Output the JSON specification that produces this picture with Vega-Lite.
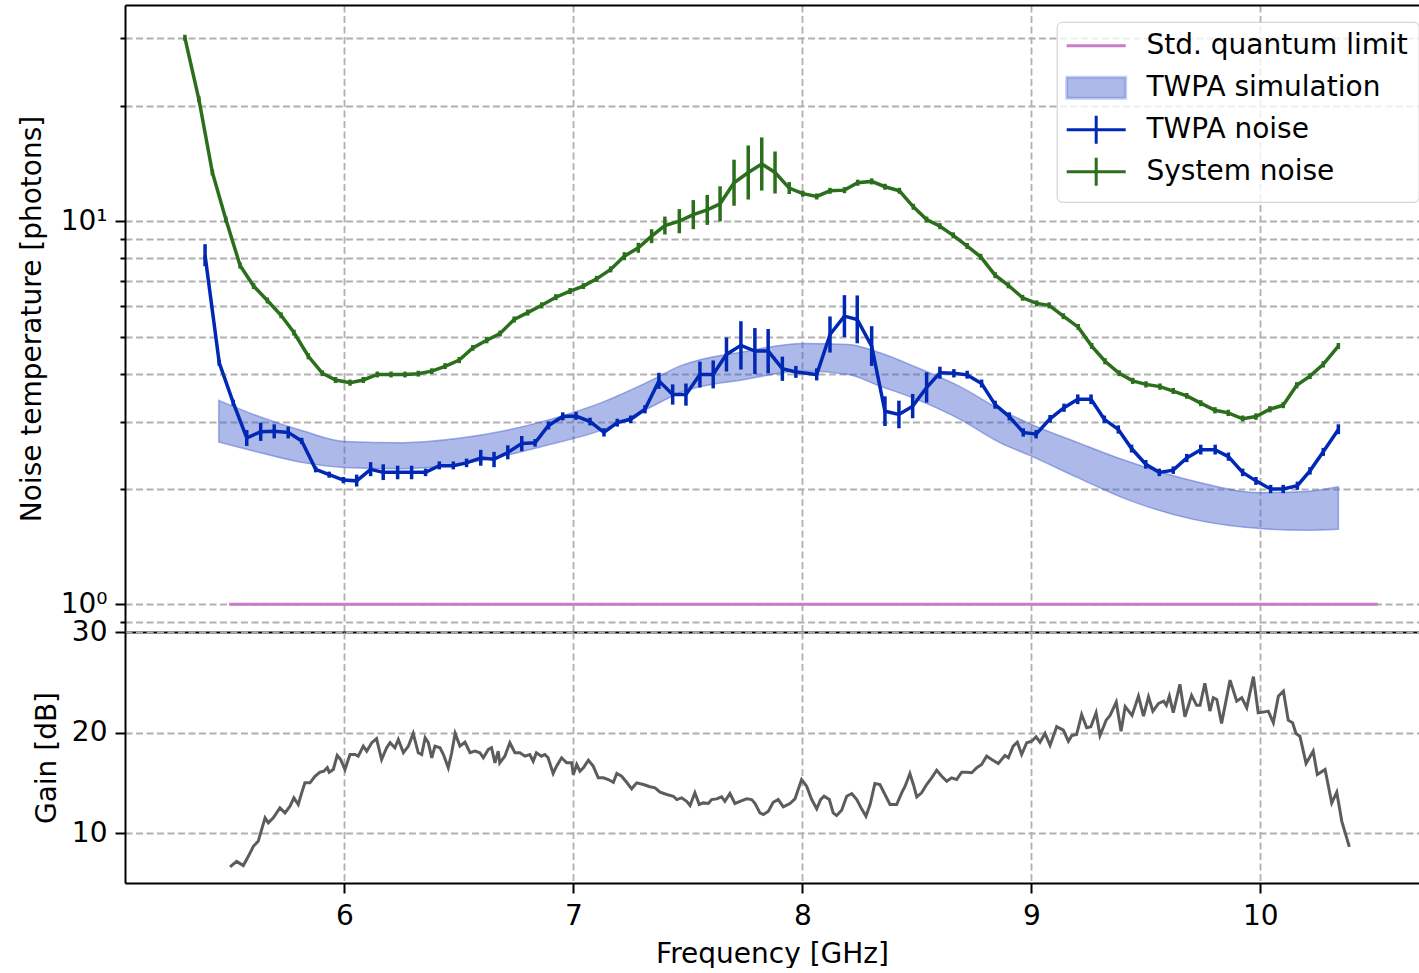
{
  "$schema": "https://vega.github.io/schema/vega-lite/v6.json",
  "padding": {"left": 18, "top": 5, "right": 0, "bottom": 0},
  "config": {
    "font": "DejaVu Sans",
    "view": {"stroke": null},
    "axis": {
      "labelFont": "DejaVu Sans", "titleFont": "DejaVu Sans",
      "labelFontSize": 28, "titleFontSize": 28,
      "labelColor": "#000000", "titleColor": "#000000", "titleFontWeight": "normal",
      "domainColor": "#000000", "domainWidth": 2,
      "tickColor": "#000000", "tickWidth": 2,
      "gridColor": "#b0b0b0", "gridDash": [7, 3.5], "gridWidth": 1.8,
      "labelOverlap": false, "labelFlush": false, "labelBound": false
    }
  },
  "datasets": {
    "band": [
      {"f": 5.452, "upper": 3.406, "lower": 2.651, "series": "TWPA simulation"},
      {"f": 5.603, "upper": 3.131, "lower": 2.512, "series": "TWPA simulation"},
      {"f": 5.821, "upper": 2.833, "lower": 2.343, "series": "TWPA simulation"},
      {"f": 6.0, "upper": 2.662, "lower": 2.277, "series": "TWPA simulation"},
      {"f": 6.258, "upper": 2.642, "lower": 2.259, "series": "TWPA simulation"},
      {"f": 6.5, "upper": 2.711, "lower": 2.319, "series": "TWPA simulation"},
      {"f": 6.694, "upper": 2.833, "lower": 2.437, "series": "TWPA simulation"},
      {"f": 6.9, "upper": 3.039, "lower": 2.615, "series": "TWPA simulation"},
      {"f": 7.117, "upper": 3.35, "lower": 2.84, "series": "TWPA simulation"},
      {"f": 7.32, "upper": 3.79, "lower": 3.23, "series": "TWPA simulation"},
      {"f": 7.465, "upper": 4.184, "lower": 3.567, "series": "TWPA simulation"},
      {"f": 7.75, "upper": 4.572, "lower": 3.864, "series": "TWPA simulation"},
      {"f": 8.004, "upper": 4.797, "lower": 4.061, "series": "TWPA simulation"},
      {"f": 8.2, "upper": 4.768, "lower": 3.982, "series": "TWPA simulation"},
      {"f": 8.339, "upper": 4.536, "lower": 3.712, "series": "TWPA simulation"},
      {"f": 8.5, "upper": 4.151, "lower": 3.426, "series": "TWPA simulation"},
      {"f": 8.689, "upper": 3.698, "lower": 3.039, "series": "TWPA simulation"},
      {"f": 8.863, "upper": 3.227, "lower": 2.642, "series": "TWPA simulation"},
      {"f": 9.0, "upper": 2.949, "lower": 2.437, "series": "TWPA simulation"},
      {"f": 9.2, "upper": 2.647, "lower": 2.145, "series": "TWPA simulation"},
      {"f": 9.417, "upper": 2.365, "lower": 1.879, "series": "TWPA simulation"},
      {"f": 9.708, "upper": 2.097, "lower": 1.666, "series": "TWPA simulation"},
      {"f": 10.0, "upper": 1.956, "lower": 1.576, "series": "TWPA simulation"},
      {"f": 10.2, "upper": 1.971, "lower": 1.56, "series": "TWPA simulation"},
      {"f": 10.341, "upper": 2.028, "lower": 1.569, "series": "TWPA simulation"}
    ],
    "sql": [
      {"f": 5.497, "T": 1, "series": "Std. quantum limit"},
      {"f": 10.513, "T": 1, "series": "Std. quantum limit"}
    ],
    "noise": [
      {"f": 5.304, "T": 30.1, "lo": 29.56, "hi": 30.65, "series": "System noise"},
      {"f": 5.365, "T": 20.8, "lo": 20.43, "hi": 21.18, "series": "System noise"},
      {"f": 5.424, "T": 13.4, "lo": 13.16, "hi": 13.64, "series": "System noise"},
      {"f": 5.483, "T": 10.1, "lo": 9.92, "hi": 10.28, "series": "System noise"},
      {"f": 5.545, "T": 7.66, "lo": 7.52, "hi": 7.8, "series": "System noise"},
      {"f": 5.604, "T": 6.77, "lo": 6.65, "hi": 6.89, "series": "System noise"},
      {"f": 5.664, "T": 6.21, "lo": 6.1, "hi": 6.32, "series": "System noise"},
      {"f": 5.724, "T": 5.68, "lo": 5.58, "hi": 5.78, "series": "System noise"},
      {"f": 5.78, "T": 5.12, "lo": 5.03, "hi": 5.21, "series": "System noise"},
      {"f": 5.843, "T": 4.44, "lo": 4.36, "hi": 4.52, "series": "System noise"},
      {"f": 5.904, "T": 4.01, "lo": 3.94, "hi": 4.08, "series": "System noise"},
      {"f": 5.962, "T": 3.85, "lo": 3.78, "hi": 3.92, "series": "System noise"},
      {"f": 6.025, "T": 3.79, "lo": 3.72, "hi": 3.86, "series": "System noise"},
      {"f": 6.083, "T": 3.85, "lo": 3.78, "hi": 3.92, "series": "System noise"},
      {"f": 6.144, "T": 3.98, "lo": 3.91, "hi": 4.05, "series": "System noise"},
      {"f": 6.204, "T": 3.98, "lo": 3.91, "hi": 4.05, "series": "System noise"},
      {"f": 6.265, "T": 3.98, "lo": 3.91, "hi": 4.05, "series": "System noise"},
      {"f": 6.323, "T": 4.0, "lo": 3.93, "hi": 4.07, "series": "System noise"},
      {"f": 6.382, "T": 4.06, "lo": 3.99, "hi": 4.13, "series": "System noise"},
      {"f": 6.44, "T": 4.18, "lo": 4.11, "hi": 4.26, "series": "System noise"},
      {"f": 6.502, "T": 4.34, "lo": 4.26, "hi": 4.42, "series": "System noise"},
      {"f": 6.561, "T": 4.67, "lo": 4.59, "hi": 4.75, "series": "System noise"},
      {"f": 6.622, "T": 4.89, "lo": 4.8, "hi": 4.98, "series": "System noise"},
      {"f": 6.68, "T": 5.09, "lo": 5.0, "hi": 5.18, "series": "System noise"},
      {"f": 6.742, "T": 5.54, "lo": 5.44, "hi": 5.64, "series": "System noise"},
      {"f": 6.801, "T": 5.77, "lo": 5.67, "hi": 5.88, "series": "System noise"},
      {"f": 6.862, "T": 6.03, "lo": 5.92, "hi": 6.14, "series": "System noise"},
      {"f": 6.924, "T": 6.33, "lo": 6.22, "hi": 6.45, "series": "System noise"},
      {"f": 6.986, "T": 6.57, "lo": 6.45, "hi": 6.69, "series": "System noise"},
      {"f": 7.044, "T": 6.77, "lo": 6.65, "hi": 6.89, "series": "System noise"},
      {"f": 7.102, "T": 7.07, "lo": 6.94, "hi": 7.2, "series": "System noise"},
      {"f": 7.163, "T": 7.48, "lo": 7.35, "hi": 7.62, "series": "System noise"},
      {"f": 7.223, "T": 8.1, "lo": 7.91, "hi": 8.3, "series": "System noise"},
      {"f": 7.284, "T": 8.52, "lo": 8.27, "hi": 8.78, "series": "System noise"},
      {"f": 7.342, "T": 9.14, "lo": 8.76, "hi": 9.53, "series": "System noise"},
      {"f": 7.4, "T": 9.74, "lo": 9.23, "hi": 10.28, "series": "System noise"},
      {"f": 7.463, "T": 10.0, "lo": 9.3, "hi": 10.75, "series": "System noise"},
      {"f": 7.524, "T": 10.4, "lo": 9.53, "hi": 11.35, "series": "System noise"},
      {"f": 7.585, "T": 10.7, "lo": 9.78, "hi": 11.71, "series": "System noise"},
      {"f": 7.641, "T": 11.1, "lo": 9.99, "hi": 12.33, "series": "System noise"},
      {"f": 7.702, "T": 12.6, "lo": 10.97, "hi": 14.47, "series": "System noise"},
      {"f": 7.764, "T": 13.4, "lo": 11.39, "hi": 15.76, "series": "System noise"},
      {"f": 7.823, "T": 14.1, "lo": 12.02, "hi": 16.54, "series": "System noise"},
      {"f": 7.881, "T": 13.4, "lo": 11.81, "hi": 15.2, "series": "System noise"},
      {"f": 7.943, "T": 12.2, "lo": 11.77, "hi": 12.65, "series": "System noise"},
      {"f": 8.002, "T": 11.8, "lo": 11.59, "hi": 12.01, "series": "System noise"},
      {"f": 8.063, "T": 11.6, "lo": 11.39, "hi": 11.81, "series": "System noise"},
      {"f": 8.121, "T": 12.0, "lo": 11.79, "hi": 12.22, "series": "System noise"},
      {"f": 8.184, "T": 12.05, "lo": 11.83, "hi": 12.27, "series": "System noise"},
      {"f": 8.242, "T": 12.6, "lo": 12.37, "hi": 12.83, "series": "System noise"},
      {"f": 8.303, "T": 12.7, "lo": 12.47, "hi": 12.93, "series": "System noise"},
      {"f": 8.361, "T": 12.3, "lo": 12.08, "hi": 12.52, "series": "System noise"},
      {"f": 8.424, "T": 12.0, "lo": 11.79, "hi": 12.22, "series": "System noise"},
      {"f": 8.485, "T": 10.9, "lo": 10.71, "hi": 11.1, "series": "System noise"},
      {"f": 8.543, "T": 10.1, "lo": 9.92, "hi": 10.28, "series": "System noise"},
      {"f": 8.601, "T": 9.7, "lo": 9.53, "hi": 9.88, "series": "System noise"},
      {"f": 8.659, "T": 9.18, "lo": 9.02, "hi": 9.35, "series": "System noise"},
      {"f": 8.72, "T": 8.61, "lo": 8.46, "hi": 8.77, "series": "System noise"},
      {"f": 8.779, "T": 8.07, "lo": 7.93, "hi": 8.22, "series": "System noise"},
      {"f": 8.842, "T": 7.23, "lo": 7.1, "hi": 7.36, "series": "System noise"},
      {"f": 8.9, "T": 6.8, "lo": 6.68, "hi": 6.92, "series": "System noise"},
      {"f": 8.962, "T": 6.31, "lo": 6.2, "hi": 6.42, "series": "System noise"},
      {"f": 9.024, "T": 6.1, "lo": 5.99, "hi": 6.21, "series": "System noise"},
      {"f": 9.078, "T": 6.03, "lo": 5.92, "hi": 6.14, "series": "System noise"},
      {"f": 9.14, "T": 5.65, "lo": 5.55, "hi": 5.75, "series": "System noise"},
      {"f": 9.205, "T": 5.29, "lo": 5.2, "hi": 5.39, "series": "System noise"},
      {"f": 9.264, "T": 4.72, "lo": 4.64, "hi": 4.81, "series": "System noise"},
      {"f": 9.322, "T": 4.31, "lo": 4.23, "hi": 4.39, "series": "System noise"},
      {"f": 9.384, "T": 4.01, "lo": 3.94, "hi": 4.08, "series": "System noise"},
      {"f": 9.443, "T": 3.83, "lo": 3.76, "hi": 3.9, "series": "System noise"},
      {"f": 9.501, "T": 3.75, "lo": 3.68, "hi": 3.82, "series": "System noise"},
      {"f": 9.562, "T": 3.7, "lo": 3.63, "hi": 3.77, "series": "System noise"},
      {"f": 9.62, "T": 3.6, "lo": 3.54, "hi": 3.67, "series": "System noise"},
      {"f": 9.679, "T": 3.5, "lo": 3.44, "hi": 3.56, "series": "System noise"},
      {"f": 9.74, "T": 3.35, "lo": 3.29, "hi": 3.41, "series": "System noise"},
      {"f": 9.802, "T": 3.21, "lo": 3.15, "hi": 3.27, "series": "System noise"},
      {"f": 9.86, "T": 3.16, "lo": 3.1, "hi": 3.22, "series": "System noise"},
      {"f": 9.923, "T": 3.05, "lo": 3.0, "hi": 3.11, "series": "System noise"},
      {"f": 9.981, "T": 3.09, "lo": 3.03, "hi": 3.15, "series": "System noise"},
      {"f": 10.042, "T": 3.23, "lo": 3.17, "hi": 3.29, "series": "System noise"},
      {"f": 10.1, "T": 3.31, "lo": 3.25, "hi": 3.37, "series": "System noise"},
      {"f": 10.159, "T": 3.73, "lo": 3.66, "hi": 3.8, "series": "System noise"},
      {"f": 10.217, "T": 3.94, "lo": 3.87, "hi": 4.01, "series": "System noise"},
      {"f": 10.275, "T": 4.23, "lo": 4.15, "hi": 4.31, "series": "System noise"},
      {"f": 10.341, "T": 4.72, "lo": 4.64, "hi": 4.81, "series": "System noise"},
      {"f": 5.392, "T": 8.15, "lo": 7.63, "hi": 8.71, "series": "TWPA noise"},
      {"f": 5.454, "T": 4.27, "lo": 4.19, "hi": 4.35, "series": "TWPA noise"},
      {"f": 5.515, "T": 3.36, "lo": 3.3, "hi": 3.42, "series": "TWPA noise"},
      {"f": 5.574, "T": 2.72, "lo": 2.59, "hi": 2.85, "series": "TWPA noise"},
      {"f": 5.635, "T": 2.82, "lo": 2.67, "hi": 2.98, "series": "TWPA noise"},
      {"f": 5.694, "T": 2.83, "lo": 2.71, "hi": 2.95, "series": "TWPA noise"},
      {"f": 5.755, "T": 2.81, "lo": 2.71, "hi": 2.91, "series": "TWPA noise"},
      {"f": 5.814, "T": 2.67, "lo": 2.62, "hi": 2.72, "series": "TWPA noise"},
      {"f": 5.875, "T": 2.25, "lo": 2.21, "hi": 2.29, "series": "TWPA noise"},
      {"f": 5.934, "T": 2.18, "lo": 2.14, "hi": 2.22, "series": "TWPA noise"},
      {"f": 5.996, "T": 2.11, "lo": 2.07, "hi": 2.15, "series": "TWPA noise"},
      {"f": 6.054, "T": 2.1, "lo": 2.03, "hi": 2.18, "series": "TWPA noise"},
      {"f": 6.115, "T": 2.25, "lo": 2.16, "hi": 2.35, "series": "TWPA noise"},
      {"f": 6.17, "T": 2.21, "lo": 2.11, "hi": 2.32, "series": "TWPA noise"},
      {"f": 6.233, "T": 2.21, "lo": 2.12, "hi": 2.3, "series": "TWPA noise"},
      {"f": 6.294, "T": 2.21, "lo": 2.12, "hi": 2.3, "series": "TWPA noise"},
      {"f": 6.355, "T": 2.21, "lo": 2.16, "hi": 2.26, "series": "TWPA noise"},
      {"f": 6.415, "T": 2.3, "lo": 2.25, "hi": 2.36, "series": "TWPA noise"},
      {"f": 6.476, "T": 2.3, "lo": 2.25, "hi": 2.36, "series": "TWPA noise"},
      {"f": 6.534, "T": 2.34, "lo": 2.28, "hi": 2.4, "series": "TWPA noise"},
      {"f": 6.596, "T": 2.41, "lo": 2.3, "hi": 2.53, "series": "TWPA noise"},
      {"f": 6.654, "T": 2.39, "lo": 2.28, "hi": 2.5, "series": "TWPA noise"},
      {"f": 6.714, "T": 2.49, "lo": 2.39, "hi": 2.6, "series": "TWPA noise"},
      {"f": 6.775, "T": 2.63, "lo": 2.51, "hi": 2.75, "series": "TWPA noise"},
      {"f": 6.833, "T": 2.64, "lo": 2.58, "hi": 2.7, "series": "TWPA noise"},
      {"f": 6.892, "T": 2.93, "lo": 2.86, "hi": 3.0, "series": "TWPA noise"},
      {"f": 6.954, "T": 3.09, "lo": 3.02, "hi": 3.17, "series": "TWPA noise"},
      {"f": 7.012, "T": 3.1, "lo": 3.03, "hi": 3.18, "series": "TWPA noise"},
      {"f": 7.073, "T": 3.0, "lo": 2.93, "hi": 3.07, "series": "TWPA noise"},
      {"f": 7.134, "T": 2.81, "lo": 2.74, "hi": 2.88, "series": "TWPA noise"},
      {"f": 7.192, "T": 2.98, "lo": 2.91, "hi": 3.05, "series": "TWPA noise"},
      {"f": 7.251, "T": 3.04, "lo": 2.97, "hi": 3.11, "series": "TWPA noise"},
      {"f": 7.313, "T": 3.23, "lo": 3.15, "hi": 3.31, "series": "TWPA noise"},
      {"f": 7.374, "T": 3.83, "lo": 3.65, "hi": 4.02, "series": "TWPA noise"},
      {"f": 7.434, "T": 3.53, "lo": 3.32, "hi": 3.75, "series": "TWPA noise"},
      {"f": 7.492, "T": 3.53, "lo": 3.3, "hi": 3.77, "series": "TWPA noise"},
      {"f": 7.553, "T": 3.98, "lo": 3.68, "hi": 4.3, "series": "TWPA noise"},
      {"f": 7.611, "T": 3.98, "lo": 3.66, "hi": 4.33, "series": "TWPA noise"},
      {"f": 7.669, "T": 4.49, "lo": 4.05, "hi": 4.97, "series": "TWPA noise"},
      {"f": 7.732, "T": 4.74, "lo": 4.1, "hi": 5.48, "series": "TWPA noise"},
      {"f": 7.793, "T": 4.58, "lo": 3.99, "hi": 5.26, "series": "TWPA noise"},
      {"f": 7.851, "T": 4.58, "lo": 4.01, "hi": 5.23, "series": "TWPA noise"},
      {"f": 7.913, "T": 4.12, "lo": 3.83, "hi": 4.43, "series": "TWPA noise"},
      {"f": 7.972, "T": 4.04, "lo": 3.9, "hi": 4.19, "series": "TWPA noise"},
      {"f": 8.063, "T": 3.98, "lo": 3.84, "hi": 4.13, "series": "TWPA noise"},
      {"f": 8.121, "T": 5.06, "lo": 4.54, "hi": 5.64, "series": "TWPA noise"},
      {"f": 8.184, "T": 5.65, "lo": 4.98, "hi": 6.41, "series": "TWPA noise"},
      {"f": 8.24, "T": 5.54, "lo": 4.8, "hi": 6.4, "series": "TWPA noise"},
      {"f": 8.303, "T": 4.72, "lo": 4.19, "hi": 5.32, "series": "TWPA noise"},
      {"f": 8.361, "T": 3.19, "lo": 2.92, "hi": 3.49, "series": "TWPA noise"},
      {"f": 8.422, "T": 3.13, "lo": 2.88, "hi": 3.4, "series": "TWPA noise"},
      {"f": 8.482, "T": 3.29, "lo": 3.06, "hi": 3.54, "series": "TWPA noise"},
      {"f": 8.543, "T": 3.68, "lo": 3.36, "hi": 4.03, "series": "TWPA noise"},
      {"f": 8.601, "T": 4.02, "lo": 3.88, "hi": 4.17, "series": "TWPA noise"},
      {"f": 8.662, "T": 4.01, "lo": 3.91, "hi": 4.11, "series": "TWPA noise"},
      {"f": 8.72, "T": 3.97, "lo": 3.88, "hi": 4.07, "series": "TWPA noise"},
      {"f": 8.783, "T": 3.77, "lo": 3.68, "hi": 3.86, "series": "TWPA noise"},
      {"f": 8.842, "T": 3.32, "lo": 3.24, "hi": 3.4, "series": "TWPA noise"},
      {"f": 8.904, "T": 3.09, "lo": 3.02, "hi": 3.17, "series": "TWPA noise"},
      {"f": 8.965, "T": 2.81, "lo": 2.74, "hi": 2.88, "series": "TWPA noise"},
      {"f": 9.021, "T": 2.78, "lo": 2.71, "hi": 2.85, "series": "TWPA noise"},
      {"f": 9.082, "T": 3.05, "lo": 2.98, "hi": 3.12, "series": "TWPA noise"},
      {"f": 9.143, "T": 3.26, "lo": 3.18, "hi": 3.34, "series": "TWPA noise"},
      {"f": 9.203, "T": 3.43, "lo": 3.33, "hi": 3.53, "series": "TWPA noise"},
      {"f": 9.261, "T": 3.43, "lo": 3.33, "hi": 3.53, "series": "TWPA noise"},
      {"f": 9.319, "T": 3.04, "lo": 2.97, "hi": 3.11, "series": "TWPA noise"},
      {"f": 9.38, "T": 2.86, "lo": 2.79, "hi": 2.93, "series": "TWPA noise"},
      {"f": 9.438, "T": 2.55, "lo": 2.49, "hi": 2.61, "series": "TWPA noise"},
      {"f": 9.5, "T": 2.32, "lo": 2.26, "hi": 2.38, "series": "TWPA noise"},
      {"f": 9.559, "T": 2.21, "lo": 2.16, "hi": 2.26, "series": "TWPA noise"},
      {"f": 9.62, "T": 2.24, "lo": 2.19, "hi": 2.29, "series": "TWPA noise"},
      {"f": 9.679, "T": 2.41, "lo": 2.35, "hi": 2.47, "series": "TWPA noise"},
      {"f": 9.74, "T": 2.53, "lo": 2.46, "hi": 2.61, "series": "TWPA noise"},
      {"f": 9.803, "T": 2.53, "lo": 2.46, "hi": 2.61, "series": "TWPA noise"},
      {"f": 9.861, "T": 2.43, "lo": 2.37, "hi": 2.49, "series": "TWPA noise"},
      {"f": 9.923, "T": 2.21, "lo": 2.16, "hi": 2.26, "series": "TWPA noise"},
      {"f": 9.981, "T": 2.1, "lo": 2.05, "hi": 2.15, "series": "TWPA noise"},
      {"f": 10.045, "T": 2.0, "lo": 1.95, "hi": 2.05, "series": "TWPA noise"},
      {"f": 10.1, "T": 2.0, "lo": 1.95, "hi": 2.05, "series": "TWPA noise"},
      {"f": 10.162, "T": 2.04, "lo": 1.99, "hi": 2.09, "series": "TWPA noise"},
      {"f": 10.217, "T": 2.23, "lo": 2.18, "hi": 2.28, "series": "TWPA noise"},
      {"f": 10.275, "T": 2.5, "lo": 2.44, "hi": 2.56, "series": "TWPA noise"},
      {"f": 10.341, "T": 2.86, "lo": 2.78, "hi": 2.95, "series": "TWPA noise"}
    ],
    "gain": [
      {"f": 5.501, "G": 6.66}, {"f": 5.53, "G": 7.21}, {"f": 5.559, "G": 6.79}, {"f": 5.581, "G": 7.71},
      {"f": 5.603, "G": 8.71}, {"f": 5.624, "G": 9.2}, {"f": 5.639, "G": 10.37}, {"f": 5.654, "G": 11.53},
      {"f": 5.668, "G": 11.03}, {"f": 5.69, "G": 11.53}, {"f": 5.719, "G": 12.53}, {"f": 5.741, "G": 12.03},
      {"f": 5.763, "G": 12.69}, {"f": 5.78, "G": 13.52}, {"f": 5.799, "G": 12.86}, {"f": 5.814, "G": 14.02},
      {"f": 5.828, "G": 15.01}, {"f": 5.85, "G": 15.01}, {"f": 5.872, "G": 15.67}, {"f": 5.894, "G": 16.07},
      {"f": 5.911, "G": 16.17}, {"f": 5.926, "G": 16.51}, {"f": 5.934, "G": 16.07}, {"f": 5.952, "G": 16.34},
      {"f": 5.969, "G": 17.73}, {"f": 5.984, "G": 17.33}, {"f": 6.003, "G": 16.34}, {"f": 6.025, "G": 17.83},
      {"f": 6.047, "G": 17.83}, {"f": 6.061, "G": 17.66}, {"f": 6.083, "G": 18.66}, {"f": 6.098, "G": 18.16},
      {"f": 6.12, "G": 19.0}, {"f": 6.141, "G": 19.39}, {"f": 6.163, "G": 17.33}, {"f": 6.185, "G": 18.5},
      {"f": 6.2, "G": 19.0}, {"f": 6.221, "G": 18.5}, {"f": 6.236, "G": 19.32}, {"f": 6.258, "G": 18.0},
      {"f": 6.28, "G": 18.66}, {"f": 6.301, "G": 19.92}, {"f": 6.323, "G": 18.0}, {"f": 6.338, "G": 17.83},
      {"f": 6.353, "G": 19.49}, {"f": 6.367, "G": 19.0}, {"f": 6.382, "G": 17.5}, {"f": 6.396, "G": 18.66},
      {"f": 6.418, "G": 18.5}, {"f": 6.433, "G": 17.83}, {"f": 6.454, "G": 16.51}, {"f": 6.469, "G": 18.0},
      {"f": 6.484, "G": 19.92}, {"f": 6.505, "G": 18.66}, {"f": 6.527, "G": 19.05}, {"f": 6.549, "G": 18.0},
      {"f": 6.571, "G": 18.16}, {"f": 6.592, "G": 18.0}, {"f": 6.607, "G": 17.5}, {"f": 6.629, "G": 18.33},
      {"f": 6.643, "G": 18.5}, {"f": 6.658, "G": 17.0}, {"f": 6.672, "G": 18.16}, {"f": 6.679, "G": 17.0},
      {"f": 6.701, "G": 17.66}, {"f": 6.723, "G": 19.0}, {"f": 6.745, "G": 18.0}, {"f": 6.767, "G": 18.0},
      {"f": 6.789, "G": 17.66}, {"f": 6.81, "G": 17.83}, {"f": 6.825, "G": 17.16}, {"f": 6.839, "G": 18.0},
      {"f": 6.861, "G": 17.66}, {"f": 6.876, "G": 17.83}, {"f": 6.89, "G": 17.5}, {"f": 6.912, "G": 15.94},
      {"f": 6.927, "G": 16.67}, {"f": 6.949, "G": 17.5}, {"f": 6.971, "G": 17.0}, {"f": 6.993, "G": 17.0},
      {"f": 7.0, "G": 15.84}, {"f": 7.015, "G": 16.84}, {"f": 7.029, "G": 16.17}, {"f": 7.044, "G": 16.51},
      {"f": 7.066, "G": 17.26}, {"f": 7.087, "G": 16.67}, {"f": 7.109, "G": 15.51}, {"f": 7.131, "G": 15.51},
      {"f": 7.153, "G": 15.34}, {"f": 7.175, "G": 15.07}, {"f": 7.19, "G": 15.94}, {"f": 7.211, "G": 15.67},
      {"f": 7.233, "G": 15.07}, {"f": 7.255, "G": 14.42}, {"f": 7.277, "G": 15.01}, {"f": 7.306, "G": 14.85},
      {"f": 7.335, "G": 14.62}, {"f": 7.357, "G": 14.52}, {"f": 7.379, "G": 14.08}, {"f": 7.408, "G": 13.85},
      {"f": 7.437, "G": 13.68}, {"f": 7.452, "G": 13.35}, {"f": 7.473, "G": 13.52}, {"f": 7.495, "G": 13.18},
      {"f": 7.51, "G": 12.76}, {"f": 7.531, "G": 14.02}, {"f": 7.55, "G": 12.86}, {"f": 7.568, "G": 13.02},
      {"f": 7.59, "G": 12.96}, {"f": 7.604, "G": 13.35}, {"f": 7.626, "G": 13.42}, {"f": 7.648, "G": 13.62},
      {"f": 7.662, "G": 13.18}, {"f": 7.684, "G": 13.95}, {"f": 7.706, "G": 12.96}, {"f": 7.728, "G": 13.18},
      {"f": 7.757, "G": 13.42}, {"f": 7.779, "G": 13.35}, {"f": 7.794, "G": 12.96}, {"f": 7.815, "G": 12.03},
      {"f": 7.83, "G": 11.86}, {"f": 7.852, "G": 12.19}, {"f": 7.873, "G": 13.08}, {"f": 7.895, "G": 13.35},
      {"f": 7.917, "G": 12.62}, {"f": 7.946, "G": 12.96}, {"f": 7.968, "G": 13.42}, {"f": 7.997, "G": 15.34},
      {"f": 8.019, "G": 14.68}, {"f": 8.041, "G": 13.35}, {"f": 8.063, "G": 12.43}, {"f": 8.08, "G": 13.35},
      {"f": 8.095, "G": 13.68}, {"f": 8.118, "G": 13.35}, {"f": 8.135, "G": 12.03}, {"f": 8.15, "G": 11.76},
      {"f": 8.172, "G": 12.29}, {"f": 8.194, "G": 13.68}, {"f": 8.216, "G": 13.95}, {"f": 8.238, "G": 13.35},
      {"f": 8.259, "G": 12.43}, {"f": 8.278, "G": 11.69}, {"f": 8.296, "G": 12.86}, {"f": 8.317, "G": 14.95},
      {"f": 8.339, "G": 14.85}, {"f": 8.361, "G": 13.85}, {"f": 8.383, "G": 12.86}, {"f": 8.412, "G": 12.86},
      {"f": 8.434, "G": 14.02}, {"f": 8.449, "G": 14.68}, {"f": 8.47, "G": 15.94}, {"f": 8.485, "G": 14.85},
      {"f": 8.5, "G": 13.62}, {"f": 8.521, "G": 14.02}, {"f": 8.543, "G": 14.85}, {"f": 8.565, "G": 15.51},
      {"f": 8.587, "G": 16.27}, {"f": 8.609, "G": 15.67}, {"f": 8.631, "G": 15.17}, {"f": 8.652, "G": 15.51},
      {"f": 8.674, "G": 15.34}, {"f": 8.696, "G": 16.07}, {"f": 8.718, "G": 16.07}, {"f": 8.74, "G": 16.01},
      {"f": 8.762, "G": 16.51}, {"f": 8.783, "G": 16.84}, {"f": 8.805, "G": 17.66}, {"f": 8.827, "G": 17.33},
      {"f": 8.856, "G": 16.94}, {"f": 8.885, "G": 17.73}, {"f": 8.9, "G": 17.5}, {"f": 8.921, "G": 18.66},
      {"f": 8.939, "G": 19.05}, {"f": 8.958, "G": 17.83}, {"f": 8.98, "G": 19.0}, {"f": 9.002, "G": 19.15},
      {"f": 9.021, "G": 19.59}, {"f": 9.038, "G": 19.05}, {"f": 9.06, "G": 19.92}, {"f": 9.082, "G": 18.73},
      {"f": 9.111, "G": 20.59}, {"f": 9.14, "G": 20.25}, {"f": 9.162, "G": 19.15}, {"f": 9.177, "G": 19.72},
      {"f": 9.198, "G": 19.82}, {"f": 9.22, "G": 21.81}, {"f": 9.242, "G": 20.49}, {"f": 9.26, "G": 20.59},
      {"f": 9.283, "G": 21.98}, {"f": 9.3, "G": 19.72}, {"f": 9.327, "G": 21.24}, {"f": 9.344, "G": 21.71},
      {"f": 9.371, "G": 23.03}, {"f": 9.392, "G": 20.15}, {"f": 9.41, "G": 22.58}, {"f": 9.44, "G": 21.71},
      {"f": 9.468, "G": 23.63}, {"f": 9.49, "G": 21.64}, {"f": 9.512, "G": 23.57}, {"f": 9.531, "G": 22.14},
      {"f": 9.556, "G": 22.91}, {"f": 9.578, "G": 23.13}, {"f": 9.59, "G": 22.71}, {"f": 9.603, "G": 23.63},
      {"f": 9.62, "G": 21.98}, {"f": 9.649, "G": 24.8}, {"f": 9.671, "G": 21.58}, {"f": 9.7, "G": 23.7},
      {"f": 9.722, "G": 22.71}, {"f": 9.737, "G": 22.71}, {"f": 9.758, "G": 24.9}, {"f": 9.78, "G": 22.14},
      {"f": 9.795, "G": 23.47}, {"f": 9.81, "G": 23.3}, {"f": 9.831, "G": 20.92}, {"f": 9.868, "G": 25.22},
      {"f": 9.897, "G": 23.13}, {"f": 9.919, "G": 23.47}, {"f": 9.941, "G": 22.48}, {"f": 9.97, "G": 25.56},
      {"f": 9.991, "G": 21.98}, {"f": 10.013, "G": 22.04}, {"f": 10.035, "G": 22.14}, {"f": 10.057, "G": 20.98},
      {"f": 10.079, "G": 23.63}, {"f": 10.101, "G": 24.13}, {"f": 10.122, "G": 21.24}, {"f": 10.141, "G": 20.98},
      {"f": 10.156, "G": 19.92}, {"f": 10.173, "G": 19.65}, {"f": 10.2, "G": 16.94}, {"f": 10.231, "G": 18.16},
      {"f": 10.249, "G": 15.84}, {"f": 10.283, "G": 16.34}, {"f": 10.312, "G": 13.02}, {"f": 10.334, "G": 14.08},
      {"f": 10.356, "G": 11.19}, {"f": 10.389, "G": 8.65}
    ]
  },
  "spacing": 0,
  "bounds": "flush",
  "vconcat": [
    {
      "width": 1294,
      "height": 627,
      "resolve": {"axis": {"x": "independent"}},
      "layer": [
        {
          "data": {"name": "band"},
          "mark": {"type": "area", "interpolate": "monotone", "stroke": "#4a63cf", "strokeOpacity": 0.5, "strokeWidth": 1.5},
          "encoding": {
            "x": {"field": "f", "type": "quantitative",
              "scale": {"domain": [5.0424, 10.6931], "nice": false, "zero": false},
              "axis": {"orient": "bottom", "title": null, "labels": false, "ticks": false, "grid": true, "values": [6, 7, 8, 9, 10], "domain": true}},
            "y": {"field": "lower", "type": "quantitative",
              "scale": {"type": "log", "domain": [0.8467, 36.66], "nice": false},
              "axis": {
                "title": "Noise temperature [photons]",
                "values": [0.9, 1, 2, 3, 4, 5, 6, 7, 8, 9, 10, 20, 30],
                "labelExpr": "datum.value == 1 ? '10⁰' : datum.value == 10 ? '10¹' : ''",
                "tickSize": {"condition": {"test": "datum.value == 1 || datum.value == 10", "value": 10}, "value": 5},
                "labelPadding": 8,
                "titlePadding": 14,
                "grid": true
              }},
            "y2": {"field": "upper"},
            "fill": {"field": "series", "type": "nominal",
              "scale": {"domain": ["Std. quantum limit", "TWPA simulation", "TWPA noise", "System noise"],
                        "range": ["transparent", "rgba(74,99,207,0.45)", "transparent", "transparent"]},
              "legend": {
                "title": null, "orient": "none", "legendX": 931.7, "legendY": 16.8,
                "labelFontSize": 28, "labelFont": "DejaVu Sans", "labelColor": "#000000", "labelLimit": 500,
                "symbolSize": 625, "symbolStrokeWidth": 3, "symbolOffset": 15.5, "labelOffset": 36.3,
                "symbolOpacity": 1, "rowPadding": 2, "padding": 10,
                "strokeColor": "#cccccc", "fillColor": "rgba(255,255,255,0.8)", "cornerRadius": 5
              }}
          }
        },
        {
          "data": {"name": "sql"},
          "mark": {"type": "line", "strokeWidth": 3},
          "encoding": {
            "x": {"field": "f", "type": "quantitative",
              "axis": {"orient": "top", "title": null, "labels": false, "ticks": false, "grid": false, "domain": true}},
            "y": {"field": "T", "type": "quantitative"},
            "stroke": {"field": "series", "type": "nominal",
              "scale": {"domain": ["Std. quantum limit", "TWPA simulation", "TWPA noise", "System noise"],
                        "range": ["#c87dc8", "rgba(74,99,207,0.3)", "#0028b4", "#2b6e1c"]},
              "legend": {
                "title": null, "orient": "none", "legendX": 931.7, "legendY": 16.8,
                "labelFontSize": 28, "labelFont": "DejaVu Sans", "labelColor": "#000000", "labelLimit": 500,
                "symbolSize": 625, "symbolStrokeWidth": 3, "symbolOffset": 15.5, "labelOffset": 36.3,
                "symbolOpacity": 1, "rowPadding": 2, "padding": 10,
                "strokeColor": "#cccccc", "fillColor": "rgba(255,255,255,0.8)", "cornerRadius": 5
              }}
          }
        },
        {
          "data": {"name": "noise"},
          "mark": {"type": "rule", "strokeWidth": 3.5},
          "encoding": {
            "x": {"field": "f", "type": "quantitative", "axis": null},
            "y": {"field": "lo", "type": "quantitative"},
            "y2": {"field": "hi"},
            "stroke": {"field": "series", "type": "nominal"}
          }
        },
        {
          "data": {"name": "noise"},
          "mark": {"type": "line", "strokeWidth": 3.5},
          "encoding": {
            "x": {"field": "f", "type": "quantitative", "axis": null},
            "y": {"field": "T", "type": "quantitative"},
            "stroke": {"field": "series", "type": "nominal"}
          }
        },
        {
          "data": {"name": "noise"},
          "mark": {"type": "point", "opacity": 0},
          "encoding": {
            "x": {"field": "f", "type": "quantitative", "axis": null},
            "y": {"field": "T", "type": "quantitative"},
            "stroke": {"field": "series", "type": "nominal"},
            "shape": {"field": "series", "type": "nominal",
              "scale": {"domain": ["Std. quantum limit", "TWPA simulation", "TWPA noise", "System noise"],
                        "range": ["M-2.36,0H2.36M0,-1.12M0,1.12", "M-2.36,-0.84H2.36V0.84H-2.36ZM0,-1.12M0,1.12", "M-2.36,0H2.36M0,-1.12V1.12", "M-2.36,0H2.36M0,-1.12V1.12"]},
              "legend": {
                "title": null, "orient": "none", "legendX": 931.7, "legendY": 16.8,
                "labelFontSize": 28, "labelFont": "DejaVu Sans", "labelColor": "#000000", "labelLimit": 500,
                "symbolSize": 625, "symbolStrokeWidth": 3, "symbolOffset": 15.5, "labelOffset": 36.3,
                "symbolOpacity": 1, "rowPadding": 2, "padding": 10,
                "strokeColor": "#cccccc", "fillColor": "rgba(255,255,255,0.8)", "cornerRadius": 5
              }}
          }
        }
      ]
    },
    {
      "width": 1294,
      "height": 251,
      "data": {"name": "gain"},
      "mark": {"type": "line", "color": "#5c5c5c", "strokeWidth": 3},
      "encoding": {
        "x": {"field": "f", "type": "quantitative",
          "scale": {"domain": [5.0424, 10.6931], "nice": false, "zero": false},
          "axis": {"title": "Frequency [GHz]", "values": [6, 7, 8, 9, 10], "tickSize": 10, "labelPadding": 9, "titlePadding": 10, "grid": true}},
        "y": {"field": "G", "type": "quantitative",
          "scale": {"domain": [5.06, 30], "nice": false, "zero": false},
          "axis": {"title": "Gain [dB]", "values": [10, 20, 30], "tickSize": 10, "labelPadding": 8, "titlePadding": 10, "grid": true}}
      }
    }
  ]
}
